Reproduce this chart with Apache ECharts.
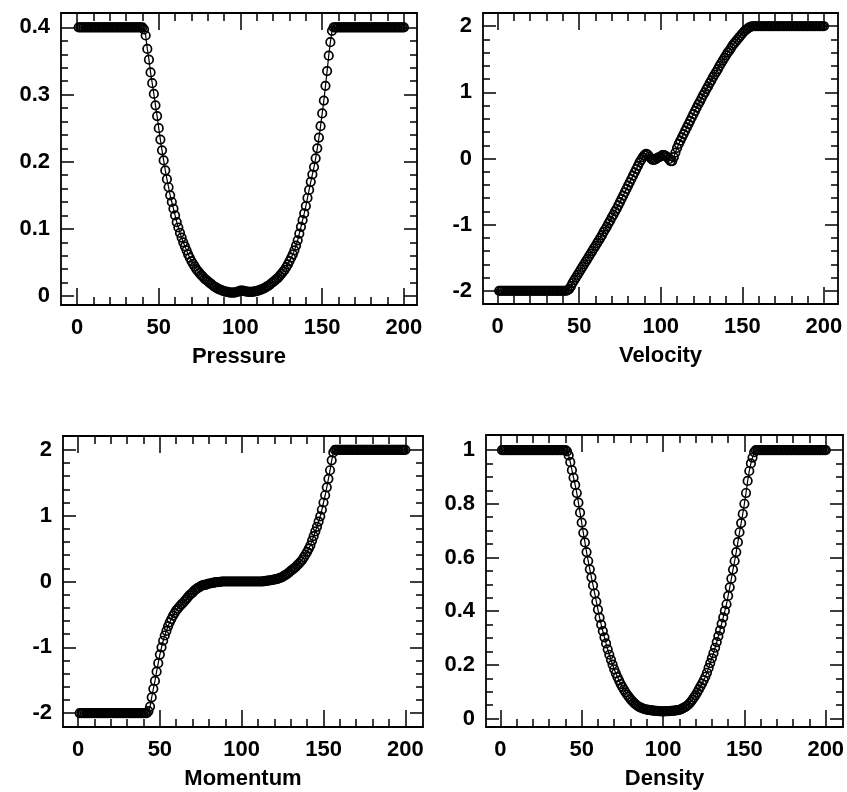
<!DOCTYPE html>
<html>
<head>
<meta charset="utf-8">
<script src="https://cdn.jsdelivr.net/npm/echarts@6/dist/echarts.min.js"></script>
<style>html,body{margin:0;padding:0;background:#fff}#c{width:847px;height:792px}</style>
</head>
<body>
<div id="c"></div>
<script>
// ---- data (cell index 1..200) ----
const cellIndex = Array.from({length: 200}, (_, k) => k + 1);

const pressure = [
0.4,0.4,0.4,0.4,0.4,0.4,0.4,0.4,0.4,0.4,
0.4,0.4,0.4,0.4,0.4,0.4,0.4,0.4,0.4,0.4,
0.4,0.4,0.4,0.4,0.4,0.4,0.4,0.4,0.4,0.4,
0.4,0.4,0.4,0.4,0.4,0.4,0.4,0.4,0.4,0.4,
0.397,0.388,0.368,0.352,0.333,0.317,0.301,0.284,0.268,0.250,
0.233,0.217,0.202,0.187,0.174,0.162,0.150,0.140,0.130,0.120,
0.110,0.102,0.094,0.087,0.080,0.074,0.068,0.062,0.057,0.052,
0.048,0.044,0.040,0.037,0.034,0.031,0.029,0.026,0.024,0.022,
0.020,0.018,0.016,0.014,0.013,0.011,0.010,0.009,0.008,0.007,
0.0065,0.006,0.0055,0.005,0.005,0.005,0.0055,0.006,0.007,0.008,
0.008,0.0075,0.007,0.0065,0.006,0.006,0.006,0.0065,0.007,0.0075,
0.008,0.009,0.010,0.011,0.012,0.014,0.015,0.017,0.019,0.021,
0.023,0.025,0.027,0.030,0.033,0.036,0.039,0.043,0.047,0.052,
0.057,0.062,0.068,0.075,0.083,0.093,0.103,0.113,0.123,0.134,
0.146,0.158,0.170,0.181,0.192,0.205,0.220,0.236,0.253,0.272,
0.291,0.313,0.335,0.358,0.378,0.395,0.4,0.4,0.4,0.4,
0.4,0.4,0.4,0.4,0.4,0.4,0.4,0.4,0.4,0.4,
0.4,0.4,0.4,0.4,0.4,0.4,0.4,0.4,0.4,0.4,
0.4,0.4,0.4,0.4,0.4,0.4,0.4,0.4,0.4,0.4,
0.4,0.4,0.4,0.4,0.4,0.4,0.4,0.4,0.4,0.4
];

const velocity = [
-2,-2,-2,-2,-2,-2,-2,-2,-2,-2,
-2,-2,-2,-2,-2,-2,-2,-2,-2,-2,
-2,-2,-2,-2,-2,-2,-2,-2,-2,-2,
-2,-2,-2,-2,-2,-2,-2,-2,-2,-2,
-2,-2,-1.99,-1.97,-1.93,-1.88,-1.84,-1.80,-1.76,-1.72,
-1.68,-1.64,-1.60,-1.56,-1.52,-1.48,-1.44,-1.40,-1.36,-1.32,
-1.28,-1.24,-1.20,-1.16,-1.11,-1.07,-1.03,-0.98,-0.94,-0.89,
-0.85,-0.80,-0.76,-0.71,-0.66,-0.61,-0.56,-0.51,-0.46,-0.41,
-0.36,-0.31,-0.26,-0.21,-0.16,-0.11,-0.06,-0.02,0.02,0.05,
0.07,0.06,0.03,0.00,-0.02,-0.02,-0.01,0.01,0.02,0.03,
0.05,0.05,0.04,0.02,-0.01,-0.04,-0.04,0.02,0.09,0.16,
0.22,0.27,0.32,0.37,0.42,0.47,0.52,0.57,0.62,0.67,
0.72,0.77,0.82,0.86,0.91,0.96,1.00,1.05,1.09,1.14,
1.18,1.23,1.27,1.31,1.35,1.40,1.44,1.48,1.52,1.56,
1.60,1.63,1.67,1.71,1.74,1.77,1.80,1.83,1.86,1.89,
1.92,1.94,1.96,1.98,1.99,2,2,2,2,2,
2,2,2,2,2,2,2,2,2,2,
2,2,2,2,2,2,2,2,2,2,
2,2,2,2,2,2,2,2,2,2,
2,2,2,2,2,2,2,2,2,2
];

const momentum = [
-2,-2,-2,-2,-2,-2,-2,-2,-2,-2,
-2,-2,-2,-2,-2,-2,-2,-2,-2,-2,
-2,-2,-2,-2,-2,-2,-2,-2,-2,-2,
-2,-2,-2,-2,-2,-2,-2,-2,-2,-2,
-2,-2,-1.97,-1.90,-1.76,-1.63,-1.51,-1.37,-1.24,-1.11,
-1.00,-0.90,-0.82,-0.75,-0.68,-0.62,-0.57,-0.52,-0.48,-0.44,
-0.41,-0.38,-0.35,-0.33,-0.30,-0.27,-0.24,-0.21,-0.19,-0.17,
-0.14,-0.12,-0.10,-0.09,-0.07,-0.06,-0.05,-0.05,-0.04,-0.03,
-0.03,-0.02,-0.02,-0.01,-0.01,-0.01,-0.005,0,0,0,
0,0,0,0,0,0,0,0,0,0,
0,0,0,0,0,0,0,0,0,0,
0,0,0.003,0.005,0.01,0.012,0.015,0.02,0.025,0.03,
0.035,0.04,0.05,0.06,0.07,0.09,0.10,0.12,0.14,0.16,
0.18,0.20,0.22,0.25,0.27,0.30,0.33,0.37,0.41,0.45,
0.50,0.55,0.62,0.69,0.76,0.83,0.91,0.99,1.09,1.20,
1.31,1.43,1.56,1.69,1.84,1.96,2,2,2,2,
2,2,2,2,2,2,2,2,2,2,
2,2,2,2,2,2,2,2,2,2,
2,2,2,2,2,2,2,2,2,2,
2,2,2,2,2,2,2,2,2,2
];

const density = [
1,1,1,1,1,1,1,1,1,1,
1,1,1,1,1,1,1,1,1,1,
1,1,1,1,1,1,1,1,1,1,
1,1,1,1,1,1,1,1,1,1,
0.995,0.980,0.955,0.925,0.897,0.870,0.840,0.804,0.767,0.730,
0.692,0.656,0.620,0.587,0.556,0.526,0.496,0.466,0.436,0.406,
0.376,0.350,0.326,0.303,0.280,0.258,0.238,0.219,0.201,0.184,
0.169,0.155,0.142,0.129,0.118,0.108,0.098,0.089,0.081,0.073,
0.066,0.060,0.054,0.049,0.045,0.042,0.039,0.037,0.035,0.034,
0.033,0.032,0.031,0.030,0.029,0.029,0.028,0.028,0.027,0.027,
0.027,0.028,0.028,0.028,0.029,0.029,0.030,0.031,0.032,0.033,
0.035,0.038,0.041,0.045,0.049,0.055,0.062,0.070,0.079,0.088,
0.098,0.109,0.120,0.131,0.143,0.156,0.171,0.189,0.207,0.225,
0.244,0.264,0.285,0.307,0.329,0.353,0.377,0.401,0.426,0.457,
0.489,0.521,0.555,0.587,0.620,0.657,0.694,0.728,0.762,0.800,
0.840,0.885,0.922,0.950,0.972,0.992,1,1,1,1,
1,1,1,1,1,1,1,1,1,1,
1,1,1,1,1,1,1,1,1,1,
1,1,1,1,1,1,1,1,1,1,
1,1,1,1,1,1,1,1,1,1
];

// ---- tick labels ----
const xTicks = [0, 50, 100, 150, 200];
const xMinorTicks = [10,20,30,40,60,70,80,90,110,120,130,140,160,170,180,190];
const pressureTicks = [0, 0.1, 0.2, 0.3, 0.4];
const pressureMinorTicks = [0.02,0.04,0.06,0.08,0.12,0.14,0.16,0.18,0.22,0.24,0.26,0.28,0.32,0.34,0.36,0.38];
const velocityTicks = [-2, -1, 0, 1, 2];
const velocityMinorTicks = [-1.8,-1.6,-1.4,-1.2,-0.8,-0.6,-0.4,-0.2,0.2,0.4,0.6,0.8,1.2,1.4,1.6,1.8];
const momentumTicks = [-2, -1, 0, 1, 2];
const momentumMinorTicks = [-1.8,-1.6,-1.4,-1.2,-0.8,-0.6,-0.4,-0.2,0.2,0.4,0.6,0.8,1.2,1.4,1.6,1.8];
const densityTicks = [0, 0.2, 0.4, 0.6, 0.8, 1];
const densityMinorTicks = [0.05,0.1,0.15,0.25,0.3,0.35,0.45,0.5,0.55,0.65,0.7,0.75,0.85,0.9,0.95];
const panelNames = ['Pressure', 'Velocity', 'Momentum', 'Density'];

// ---- layout ----
const FONT = 'Liberation Sans, Arial, Helvetica, sans-serif';
const panels = [
  {box:[61, 13, 356, 292], x:[-9.8, 208], y:[-0.0134, 0.4215], vals:pressure, yt:pressureTicks, ym:pressureMinorTicks, name:panelNames[0]},
  {box:[483, 13, 355, 291], x:[-8.9, 208.6], y:[-2.2, 2.2], vals:velocity, yt:velocityTicks, ym:velocityMinorTicks, name:panelNames[1]},
  {box:[63, 436, 360, 291], x:[-9.2, 210.8], y:[-2.21, 2.21], vals:momentum, yt:momentumTicks, ym:momentumMinorTicks, name:panelNames[2]},
  {box:[486, 435, 357, 292], x:[-8.8, 210.6], y:[-0.031, 1.056], vals:density, yt:densityTicks, ym:densityMinorTicks, name:panelNames[3]}
];

const grids = [], xAxes = [], yAxes = [], series = [];
function axis(dim, g, p, position, showLine, ticks, tickLen, labels, extra) {
  const range = dim === 'x' ? p.x : p.y;
  const a = {
    type: 'value', gridIndex: g, position: position,
    min: range[0], max: range[1],
    splitLine: {show: false},
    axisLine: {show: showLine, onZero: false, lineStyle: {color: '#000', width: 1.8}},
    axisTick: {show: true, inside: true, length: tickLen, customValues: ticks, lineStyle: {color: '#000', width: 1.5}},
    axisLabel: labels ? {show: true, customValues: labels, color: '#000', fontFamily: FONT, fontSize: 22,
      fontWeight: 'bold', margin: dim === 'x' ? 12 : 11, formatter: v => String(v)} : {show: false},
    axisPointer: {show: false}
  };
  return Object.assign(a, extra || {});
}

panels.forEach((p, g) => {
  grids.push({left: p.box[0], top: p.box[1], width: p.box[2], height: p.box[3], containLabel: false, outerBoundsMode: 'none'});
  xAxes.push(axis('x', g, p, 'bottom', true, xTicks, 17, xTicks, {
    name: p.name, nameLocation: 'middle', nameGap: 41,
    nameTextStyle: {color: '#000', fontFamily: FONT, fontSize: 22, fontWeight: 'bold'}
  }));
  xAxes.push(axis('x', g, p, 'bottom', false, xMinorTicks, 8, null));
  xAxes.push(axis('x', g, p, 'top', true, xTicks, 17, null));
  xAxes.push(axis('x', g, p, 'top', false, xMinorTicks, 8, null));
  yAxes.push(axis('y', g, p, 'left', true, p.yt, 13, p.yt));
  yAxes.push(axis('y', g, p, 'left', false, p.ym, 7, null));
  yAxes.push(axis('y', g, p, 'right', true, p.yt, 13, null));
  yAxes.push(axis('y', g, p, 'right', false, p.ym, 7, null));
  series.push({
    type: 'line', xAxisIndex: 4 * g, yAxisIndex: 4 * g,
    data: cellIndex.map((c, k) => [c, p.vals[k]]),
    symbol: 'circle', symbolSize: 8.5, showSymbol: true, showAllSymbol: true,
    clip: false, silent: true,
    lineStyle: {color: '#000', width: 1.2},
    itemStyle: {color: 'rgba(0,0,0,0)', borderColor: '#000', borderWidth: 1.7},
    emphasis: {disabled: true}
  });
});

const chart = echarts.init(document.getElementById('c'), null, {renderer: 'canvas'});
chart.setOption({
  backgroundColor: '#fff',
  animation: false,
  grid: grids,
  xAxis: xAxes,
  yAxis: yAxes,
  series: series
});
</script>
</body>
</html>
